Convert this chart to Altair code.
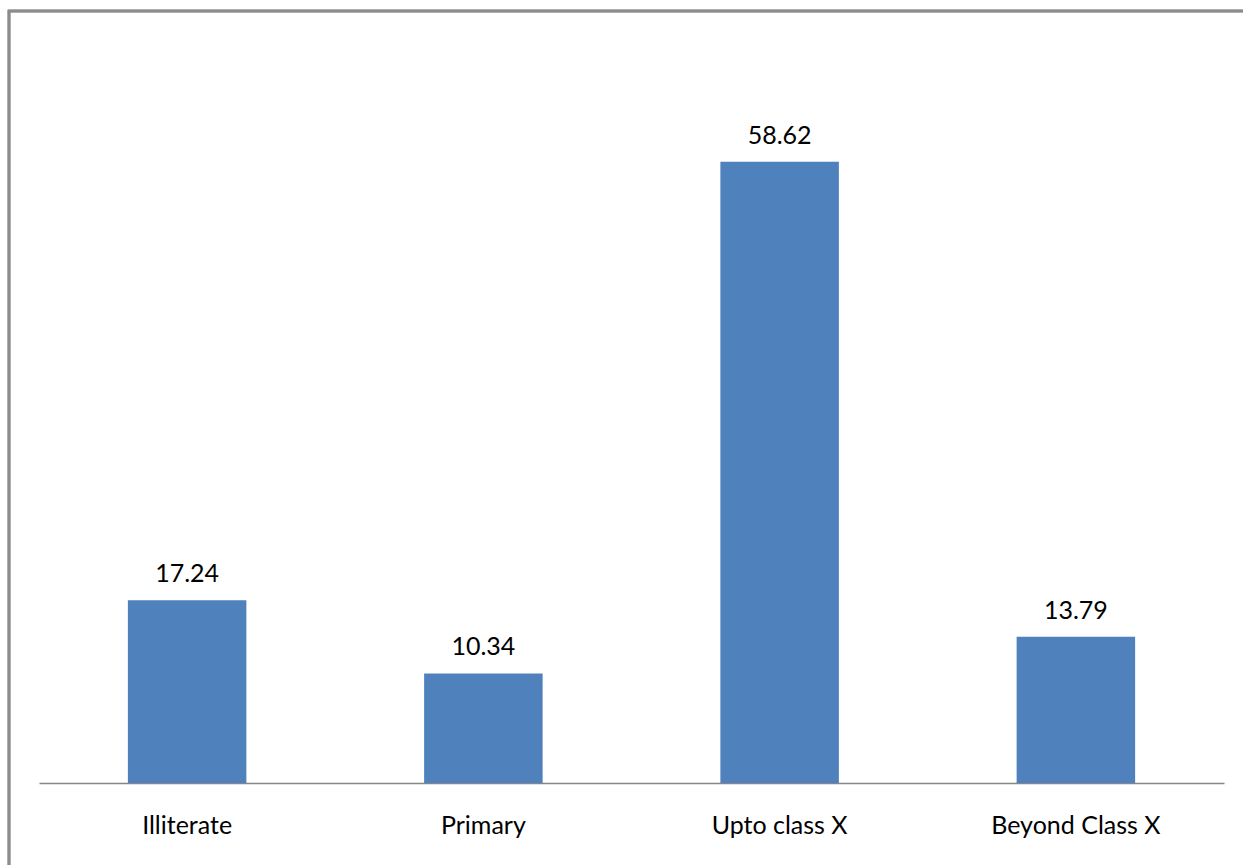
import altair as alt
import pandas as pd

categories = ["Illiterate", "Primary", "Upto class X", "Beyond Class X"]
values = [17.24, 10.34, 58.62, 13.79]

df = pd.DataFrame({"category": categories, "value": values})
df["label"] = [f"{v:.2f}" for v in values]

W, H = 1185, 742
FONT = "Lato"

x = alt.X("category:N", sort=categories,
          scale=alt.Scale(paddingInner=0.6, paddingOuter=0.3),
          axis=alt.Axis(title=None, labelAngle=0, ticks=False, tickSize=0,
                        labelPadding=50, labelBaseline="alphabetic",
                        labelFont=FONT, labelFontSize=25, labelColor="#000000",
                        domainColor="#868686", domainWidth=1.5, grid=False))
y = alt.Y("value:Q", scale=alt.Scale(domain=[0, 70], nice=False),
          axis=None)

bars = alt.Chart(df).mark_bar(color="#4F81BD").encode(x=x, y=y)
labels = alt.Chart(df).mark_text(font=FONT, fontSize=25, color="#000000",
                                 baseline="alphabetic", dy=-18).encode(
    x=alt.X("category:N", sort=categories), y="value:Q", text="label:N")

frame = alt.Chart(df).mark_rect(fill=None, stroke="#8C8C8C", strokeWidth=2.5,
                                clip=False).encode(
    x=alt.value(-30), x2=alt.value(1300), y=alt.value(-30), y2=alt.value(900))

chart = alt.layer(bars, labels, frame).properties(
    width=W, height=H,
    autosize=alt.AutoSizeParams(type="none"),
    padding={"left": 39, "top": 41, "right": 19, "bottom": 82},
    background="#FFFFFF",
).configure_view(stroke=None)

chart.save("out.html", embed_options={"renderer": "svg", "actions": False})
